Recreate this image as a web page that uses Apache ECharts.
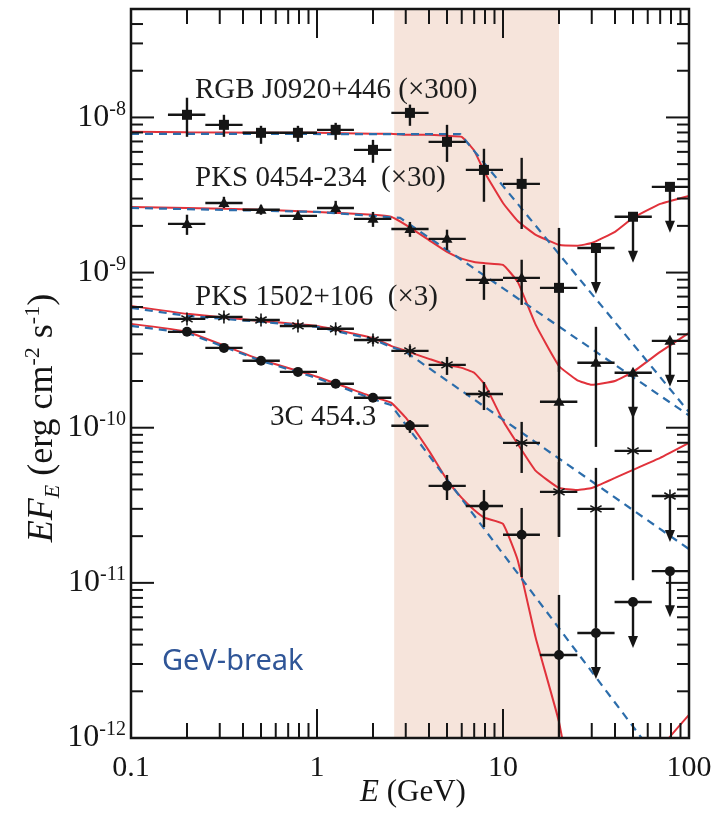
<!DOCTYPE html>
<html>
<head>
<meta charset="utf-8">
<script src="https://cdn.jsdelivr.net/npm/echarts@6/dist/echarts.min.js"></script>
<style>
  html, body { margin: 0; padding: 0; background: #ffffff; }
  #chart { width: 715px; height: 819px; }
</style>
</head>
<body>
<div id="chart"></div>
<script>
// ---- LAT energy bins (GeV) ----
const binCenter = [0.2, 0.316, 0.5, 0.79, 1.26, 2.0, 3.16, 5.0, 7.9, 12.6, 20, 31.6, 50, 79];
const binLow    = [0.158, 0.251, 0.398, 0.631, 1.0, 1.58, 2.51, 3.98, 6.31, 10, 15.8, 25.1, 39.8, 63.1];
const binHigh   = [0.251, 0.398, 0.631, 1.0, 1.58, 2.51, 3.98, 6.31, 10, 15.8, 25.1, 39.8, 63.1, 100];

// ---- RGB J0920+446 (x300) ----
const rgbFlux  = [1.04e-8, 8.96e-9, 7.96e-9, 7.96e-9, 8.32e-9, 6.18e-9, 1.07e-8, 6.96e-9, 4.59e-9, 3.73e-9, 7.97e-10, 1.44e-9, 2.29e-9, 3.57e-9];
const rgbLow   = [7.50e-9, 7.50e-9, 6.76e-9, 6.96e-9, 7.17e-9, 5.10e-9, 8.83e-9, 5.17e-9, 2.86e-9, 1.91e-9, 2.29e-10, null, null, null];
const rgbHigh  = [1.34e-8, 1.04e-8, 8.83e-9, 8.83e-9, 9.23e-9, 7.17e-9, 1.21e-8, 8.96e-9, 6.28e-9, 5.49e-9, 1.94e-9, null, null, null];
const rgbUpper = [0, 0, 0, 0, 0, 0, 0, 0, 0, 0, 0, 1, 1, 1];

// ---- PKS 0454-234 (x30) ----
const pks0454Flux  = [2.06e-9, 2.81e-9, 2.54e-9, 2.32e-9, 2.61e-9, 2.22e-9, 1.91e-9, 1.65e-9, 8.97e-10, 9.24e-10, 1.47e-10, 2.62e-10, 2.26e-10, 3.63e-10];
const pks0454Low   = [1.75e-9, 2.61e-9, 2.36e-9, 2.19e-9, 2.39e-9, 1.97e-9, 1.70e-9, 1.40e-9, 6.67e-10, 6.19e-10, 1.98e-11, 7.52e-11, null, null];
const pks0454High  = [2.36e-9, 3.08e-9, 2.73e-9, 2.46e-9, 2.90e-9, 2.46e-9, 2.12e-9, 1.89e-9, 1.12e-9, 1.21e-9, 2.74e-10, 4.47e-10, null, null];
const pks0454Upper = [0, 0, 0, 0, 0, 0, 0, 0, 0, 0, 0, 0, 1, 1];

// ---- PKS 1502+106 (x3) ----
const pks1502Flux  = [5.03e-10, 5.18e-10, 4.95e-10, 4.53e-10, 4.34e-10, 3.68e-10, 3.13e-10, 2.54e-10, 1.65e-10, 7.98e-11, 3.86e-11, 3.00e-11, 7.09e-11, 3.63e-11];
const pks1502Low   = [4.81e-10, 4.95e-10, 4.74e-10, 4.34e-10, 4.15e-10, 3.47e-10, 2.90e-10, 2.19e-10, 1.30e-10, 5.11e-11, 1.98e-11, 5.12e-12, 1.04e-11, null];
const pks1502High  = [5.26e-10, 5.42e-10, 5.18e-10, 4.74e-10, 4.53e-10, 3.91e-10, 3.37e-10, 2.86e-10, 1.97e-10, 1.09e-10, 6.02e-11, 5.51e-11, 1.34e-10, null];
const pks1502Upper = [0, 0, 0, 0, 0, 0, 0, 0, 0, 0, 0, 0, 0, 1];

// ---- 3C 454.3 ----
const c3Flux  = [4.15e-10, 3.27e-10, 2.70e-10, 2.29e-10, 1.92e-10, 1.56e-10, 1.03e-10, 4.22e-11, 3.13e-11, 2.04e-11, 3.43e-12, 4.75e-12, 7.53e-12, 1.19e-11];
const c3Low   = [3.97e-10, 3.13e-10, 2.58e-10, 2.19e-10, 1.83e-10, 1.49e-10, 9.26e-11, 3.42e-11, 2.29e-11, 1.09e-11, 1.0e-12, null, null, null];
const c3High  = [4.34e-10, 3.42e-10, 2.82e-10, 2.39e-10, 2.00e-10, 1.63e-10, 1.12e-10, 4.96e-11, 3.97e-11, 3.04e-11, 8.36e-12, null, null, null];
const c3Upper = [0, 0, 0, 0, 0, 0, 0, 0, 0, 0, 0, 1, 1, 1];

// ---- model curves: photon-photon absorbed spectra (solid) ----
const modelE = [0.1, 0.2, 0.5, 1, 2, 2.5, 3, 4, 5, 6, 7, 8, 10, 12, 15, 20, 25, 30, 40, 50, 70, 100];
const rgbModel     = [8.08e-9, 8.02e-9, 7.96e-9, 7.96e-9, 7.84e-9, 7.84e-9, 7.72e-9, 7.72e-9, 7.61e-9, 7.5e-9, 6.1e-9, 4.39e-9, 2.81e-9, 2.15e-9, 1.75e-9, 1.51e-9, 1.49e-9, 1.55e-9, 1.83e-9, 2.25e-9, 2.77e-9, 3.12e-9];
const pks0454Model = [2.65e-9, 2.61e-9, 2.54e-9, 2.46e-9, 2.36e-9, 2.29e-9, 2.03e-9, 1.62e-9, 1.36e-9, 1.23e-9, 1.17e-9, 1.15e-9, 1.12e-9, 8.71e-10, 4.60e-10, 2.50e-10, 2.03e-10, 1.89e-10, 2.00e-10, 2.29e-10, 3.08e-10, 4.09e-10];
const pks1502Model = [6.10e-10, 5.42e-10, 4.88e-10, 4.53e-10, 3.79e-10, 3.37e-10, 3.13e-10, 2.78e-10, 2.54e-10, 2.43e-10, 2.26e-10, 1.89e-10, 1.11e-10, 7.86e-11, 5.27e-11, 4.09e-11, 3.97e-11, 4.09e-11, 4.75e-11, 5.35e-11, 6.39e-11, 7.98e-11];
const c3Model      = [4.67e-10, 4.15e-10, 2.74e-10, 2.13e-10, 1.58e-10, 1.45e-10, 1.16e-10, 7.09e-11, 4.61e-11, 3.53e-11, 2.95e-11, 2.62e-11, 2.40e-11, 1.40e-11, 4.41e-12, 1.27e-12, 3.0e-13, 1.5e-13, 1.2e-13, 2.0e-13, 8.4e-13, 1.41e-12];

// ---- broken power-law fits (dashed) ----
const rgbFitE     = [0.1, 5.9, 100];
const rgbFit      = [7.84e-9, 7.80e-9, 1.26e-10];
const pks0454FitE = [0.1, 1, 2, 2.8, 100];
const pks0454Fit  = [2.61e-9, 2.46e-9, 2.32e-9, 2.25e-9, 1.20e-10];
const pks1502FitE = [0.1, 0.2, 0.5, 1, 2, 2.5, 3, 100];
const pks1502Fit  = [5.92e-10, 5.26e-10, 4.81e-10, 4.47e-10, 3.71e-10, 3.32e-10, 3.08e-10, 1.65e-11];
const c3FitE      = [0.1, 0.2, 0.5, 1, 2, 2.5, 100];
const c3Fit       = [4.53e-10, 4.09e-10, 2.70e-10, 2.09e-10, 1.53e-10, 1.40e-10, 3.93e-13];

// ---- GeV break band (GeV) ----
const breakBand = [2.6, 20];

// ---- axis labels ----
const xTickLabels = ['0.1', '1', '10', '100'];
const yTickExp = [-12, -11, -10, -9, -8];

const X_MIN = 0.1, X_MAX = 100, Y_MIN = 1e-12, Y_MAX = 5e-8;
const SERIF = '"Liberation Serif", "Times New Roman", serif';
const INK = '#151515';
const RED = '#e1323b';
const BLUE = '#2c6dab';
const ARROW_LEN = 46;

function isPow10(v) {
  const e = Math.log10(v);
  return Math.abs(e - Math.round(e)) < 1e-6;
}

// tick positions: decades with 2..9 minors
const xTickVals = [];
for (let k = -1; k <= 1; k++) for (let m = 1; m <= 9; m++) xTickVals.push(m * Math.pow(10, k));
xTickVals.push(100);
const yTickVals = [];
for (let k = -12; k <= -9; k++) for (let m = 1; m <= 9; m++) yTickVals.push(m * Math.pow(10, k));
yTickVals.push(1e-8, 2e-8, 3e-8, 4e-8);

// ---- markers ----
const squareMark = (x, y) => ({ type: 'rect', shape: { x: x - 5, y: y - 5, width: 10, height: 10 }, style: { fill: INK } });
const triangleMark = (x, y) => ({ type: 'polygon', shape: { points: [[x, y - 6], [x + 5.5, y + 4], [x - 5.5, y + 4]] }, style: { fill: INK } });
const circleMark = (x, y) => ({ type: 'circle', shape: { cx: x, cy: y, r: 5 }, style: { fill: INK } });
const starMark = (x, y) => ({
  type: 'group',
  children: [0, 60, 120].map(a => {
    const r = 6.5, t = a * Math.PI / 180;
    return { type: 'line', shape: { x1: x - r * Math.sin(t), y1: y - r * Math.cos(t), x2: x + r * Math.sin(t), y2: y + r * Math.cos(t) }, style: { stroke: INK, lineWidth: 1.6 } };
  })
});

function sourceRows(flux, lo, hi, ul) {
  return binCenter.map((e, i) => [e, flux[i], ul[i] ? flux[i] : lo[i], ul[i] ? flux[i] : hi[i], binLow[i], binHigh[i], ul[i]]);
}

function pointSeries(name, flux, lo, hi, ul, marker) {
  return {
    type: 'custom', name, z: 6, silent: true,
    data: sourceRows(flux, lo, hi, ul),
    renderItem(params, api) {
      const e = api.value(0), f = api.value(1);
      const c = api.coord([e, f]);
      const xl = api.coord([api.value(4), f])[0];
      const xr = api.coord([api.value(5), f])[0];
      const st = { stroke: INK, lineWidth: 2.4 };
      const kids = [{ type: 'line', shape: { x1: xl, y1: c[1], x2: xr, y2: c[1] }, style: st }];
      if (api.value(6) === 1) {
        const tip = c[1] + ARROW_LEN;
        kids.push({ type: 'line', shape: { x1: c[0], y1: c[1], x2: c[0], y2: tip - 8 }, style: st });
        kids.push({ type: 'polygon', shape: { points: [[c[0] - 5, tip - 12], [c[0] + 5, tip - 12], [c[0], tip]] }, style: { fill: INK } });
      } else {
        const yl = api.coord([e, api.value(2)])[1];
        const yh = api.coord([e, api.value(3)])[1];
        kids.push({ type: 'line', shape: { x1: c[0], y1: yh, x2: c[0], y2: yl }, style: st });
      }
      kids.push(marker(c[0], c[1]));
      return { type: 'group', children: kids };
    }
  };
}

function curveSeries(name, xs, ys, color, dashed) {
  return {
    type: 'line', name, silent: true, clip: true, z: dashed ? 4 : 3,
    data: xs.map((x, i) => [x, ys[i]]),
    symbol: 'none', showSymbol: false,
    smooth: dashed ? false : 0.12,
    lineStyle: { color, width: dashed ? 2.2 : 2, type: dashed ? [8, 6] : 'solid' }
  };
}

const chart = echarts.init(document.getElementById('chart'));

chart.setOption({
  animation: false,
  backgroundColor: '#ffffff',
  grid: { left: 131, right: 26, top: 9, bottom: 81, containLabel: false },
  xAxis: {
    type: 'log', logBase: 10, min: X_MIN, max: X_MAX,
    axisLine: { show: false }, axisTick: { show: false }, splitLine: { show: false },
    axisLabel: {
      margin: 15, color: INK, fontFamily: SERIF, fontSize: 30,
      formatter: v => isPow10(v) ? xTickLabels[Math.round(Math.log10(v)) + 1] : ''
    }
  },
  yAxis: {
    type: 'log', logBase: 10, min: Y_MIN, max: Y_MAX,
    axisLine: { show: false }, axisTick: { show: false }, splitLine: { show: false },
    axisLabel: {
      margin: 5, color: INK,
      formatter: v => {
        if (!isPow10(v)) return '';
        const e = Math.round(Math.log10(v));
        return yTickExp.indexOf(e) >= 0 ? '{m|10}{e|' + e + '}' : '';
      },
      rich: {
        m: { fontFamily: SERIF, fontSize: 32, color: INK, lineHeight: 36 },
        e: { fontFamily: SERIF, fontSize: 20, color: INK, lineHeight: 20, verticalAlign: 'top' }
      }
    }
  },
  graphic: [
    { type: 'text', x: 195, y: 90, z: 20, style: { text: 'RGB J0920+446 (×300)', font: '29px ' + SERIF, fill: '#1c1c1c', align: 'left', verticalAlign: 'middle' } },
    { type: 'text', x: 195, y: 178, z: 20, style: { text: 'PKS 0454-234  (×30)', font: '29px ' + SERIF, fill: '#1c1c1c', align: 'left', verticalAlign: 'middle' } },
    { type: 'text', x: 195, y: 297, z: 20, style: { text: 'PKS 1502+106  (×3)', font: '29px ' + SERIF, fill: '#1c1c1c', align: 'left', verticalAlign: 'middle' } },
    { type: 'text', x: 270, y: 417, z: 20, style: { text: '3C 454.3', font: '29px ' + SERIF, fill: '#1c1c1c', align: 'left', verticalAlign: 'middle' } },
    { type: 'text', x: 162, y: 662, z: 20, style: { text: 'GeV-break', font: '29px "Noto Sans", sans-serif', fill: '#2f5597', align: 'left', verticalAlign: 'middle' } },
    {
      type: 'text', x: 413, y: 793, z: 20,
      style: {
        text: '{i|E}{r| (GeV)}', align: 'center', verticalAlign: 'middle',
        rich: {
          i: { fontFamily: SERIF, fontStyle: 'italic', fontSize: 31, fill: INK },
          r: { fontFamily: SERIF, fontSize: 31, fill: INK }
        }
      }
    },
    {
      type: 'text', x: 43, y: 418, rotation: Math.PI / 2, z: 20,
      style: {
        text: '{i|EF}{b|E}{r| (erg cm}{s|-2}{r| s}{s|-1}{r|)}', align: 'center', verticalAlign: 'middle',
        rich: {
          i: { fontFamily: SERIF, fontStyle: 'italic', fontSize: 36, lineHeight: 42, fill: INK },
          b: { fontFamily: SERIF, fontStyle: 'italic', fontSize: 22, lineHeight: 26, verticalAlign: 'bottom', fill: INK },
          r: { fontFamily: SERIF, fontSize: 36, lineHeight: 42, fill: INK },
          s: { fontFamily: SERIF, fontSize: 22, lineHeight: 26, verticalAlign: 'top', fill: INK }
        }
      }
    }
  ],
  series: [
    // shaded GeV-break energy band
    {
      type: 'custom', name: 'band', z: 1, silent: true,
      data: [[breakBand[0], Y_MIN, breakBand[1]]],
      renderItem(params, api) {
        const cs = params.coordSys;
        const x1 = api.coord([api.value(0), Y_MIN])[0];
        const x2 = api.coord([api.value(2), Y_MIN])[0];
        return { type: 'rect', shape: { x: x1, y: cs.y, width: x2 - x1, height: cs.height }, style: { fill: '#f6e4db' } };
      }
    },
    curveSeries('RGB J0920+446 model', modelE, rgbModel, RED, false),
    curveSeries('PKS 0454-234 model', modelE, pks0454Model, RED, false),
    curveSeries('PKS 1502+106 model', modelE, pks1502Model, RED, false),
    curveSeries('3C 454.3 model', modelE, c3Model, RED, false),
    curveSeries('RGB J0920+446 BPL', rgbFitE, rgbFit, BLUE, true),
    curveSeries('PKS 0454-234 BPL', pks0454FitE, pks0454Fit, BLUE, true),
    curveSeries('PKS 1502+106 BPL', pks1502FitE, pks1502Fit, BLUE, true),
    curveSeries('3C 454.3 BPL', c3FitE, c3Fit, BLUE, true),
    pointSeries('RGB J0920+446', rgbFlux, rgbLow, rgbHigh, rgbUpper, squareMark),
    pointSeries('PKS 0454-234', pks0454Flux, pks0454Low, pks0454High, pks0454Upper, triangleMark),
    pointSeries('PKS 1502+106', pks1502Flux, pks1502Low, pks1502High, pks1502Upper, starMark),
    pointSeries('3C 454.3', c3Flux, c3Low, c3High, c3Upper, circleMark),
    // inward ticks on bottom and top
    {
      type: 'custom', name: 'xticks', z: 8, silent: true,
      data: xTickVals.map(v => [v, Y_MIN]),
      renderItem(params, api) {
        const cs = params.coordSys;
        const v = api.value(0);
        const px = api.coord([v, Y_MIN])[0];
        const len = isPow10(v) ? 29 : 15;
        const st = { stroke: INK, lineWidth: 2 };
        return { type: 'group', children: [
          { type: 'line', shape: { x1: px, y1: cs.y + cs.height, x2: px, y2: cs.y + cs.height - len }, style: st },
          { type: 'line', shape: { x1: px, y1: cs.y, x2: px, y2: cs.y + len }, style: st }
        ] };
      }
    },
    // inward ticks on left and right
    {
      type: 'custom', name: 'yticks', z: 8, silent: true,
      data: yTickVals.map(v => [X_MIN, v]),
      renderItem(params, api) {
        const cs = params.coordSys;
        const v = api.value(1);
        const py = api.coord([X_MIN, v])[1];
        const len = isPow10(v) ? 23 : 12;
        const st = { stroke: INK, lineWidth: 2 };
        return { type: 'group', children: [
          { type: 'line', shape: { x1: cs.x, y1: py, x2: cs.x + len, y2: py }, style: st },
          { type: 'line', shape: { x1: cs.x + cs.width, y1: py, x2: cs.x + cs.width - len, y2: py }, style: st }
        ] };
      }
    },
    // plot frame
    {
      type: 'custom', name: 'frame', z: 9, silent: true,
      data: [[X_MIN, Y_MIN]],
      renderItem(params) {
        const cs = params.coordSys;
        return { type: 'rect', shape: { x: cs.x, y: cs.y, width: cs.width, height: cs.height }, style: { fill: 'none', stroke: INK, lineWidth: 2.5 } };
      }
    }
  ]
});
</script>
</body>
</html>
